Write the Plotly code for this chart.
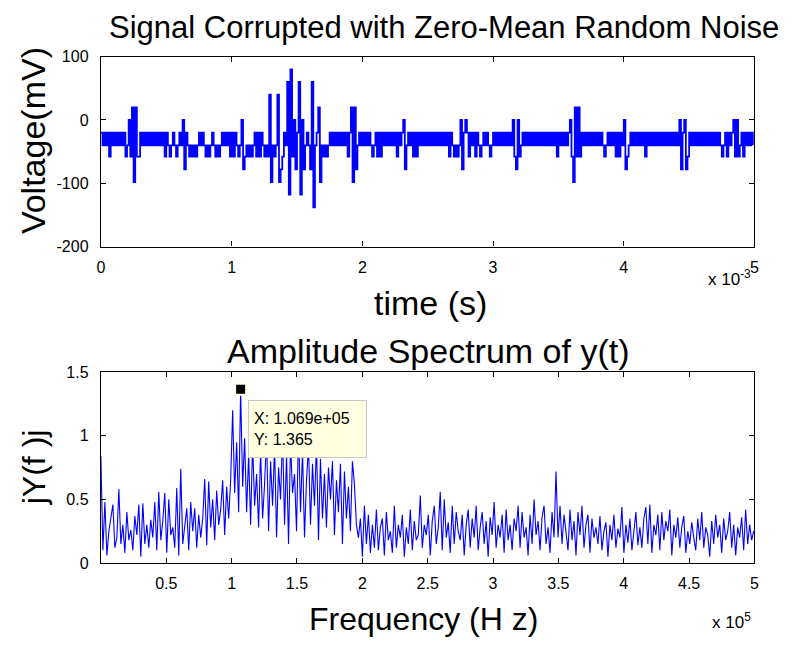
import numpy as np
import plotly.graph_objects as go

# ---------------- data ----------------
dt = 1.25e-5  # sample spacing of the time signal (s)
voltage = [
    -20, -40, -20, -40, -20, -58, -20, -40, -20, -40, -20, -40, -20, -40, -20, -58, -40, 0, -58, 20,
    -98, 20, -58, -58, -20, -40, -20, -40, -20, -40, -20, -40, -20, -40, -20, -40, -20, -40, -20, -58,
    -20, -40, -58, -40, -20, -40, -58, -40, -20, -40, 0, -78, -20, -40, -58, -40, -58, -40, -58, -40,
    -20, -40, -20, -40, -58, -40, -58, -40, -20, -40, -58, -40, -58, -40, -20, -40, -20, -40, -20, -58,
    -20, -58, -20, -40, -58, -40, 0, -78, -58, -40, -58, -40, -58, -40, -20, -58, -20, -58, -20, -40,
    -58, -40, -58, 40, -98, -40, -58, -40, 40, -98, -78, -58, -20, -40, 60, -118, 80, -58, 0, -78,
    -20, 60, -118, 0, -78, -40, -20, -40, -78, 60, -138, -40, -20, 20, -98, -40, -58, -40, -58, -40,
    -20, -40, -20, -40, -20, -40, -20, -40, -20, -40, -20, -58, -20, 20, -98, 20, -78, -40, -20, -40,
    -20, -40, -20, -40, -20, -40, -58, -40, -20, -58, -20, -58, -20, -40, -20, -40, -20, -40, -20, -40,
    -20, -58, -20, -40, -20, 0, -78, -40, -20, -40, -20, -58, -20, -58, -20, -40, -20, -40, -20, -40,
    -20, -40, -20, -40, -20, -40, -20, -40, -20, -40, -20, -40, -20, -58, -20, -40, -58, -40, -58, -40,
    0, -78, -20, 0, -20, -58, -20, -40, -20, -58, -20, -40, -58, -40, -20, -40, -20, -40, -58, -40,
    -20, -40, -20, -40, -20, -40, -20, -40, -20, -40, -20, -40, 0, -58, -78, 0, -58, -40, -20, -40,
    -20, -40, -20, -40, -20, -40, -20, -40, -20, -40, -20, -40, -20, -40, -20, -40, -20, -40, -20, -58,
    -20, -40, -20, -40, -20, -40, -20, 0, -58, -98, 20, -58, 20, -58, -20, -40, -20, -40, -20, -40,
    -20, -40, -20, -40, -20, -40, -20, -40, -58, -40, -20, -40, -20, -40, -20, -58, -20, -58, -20, -40,
    0, -78, -58, -40, -20, -40, -20, -40, -20, -40, -20, -40, -20, -58, -20, -40, -20, -40, -20, -40,
    -20, -40, -20, -40, -20, -40, -20, -40, -20, -40, -20, -40, -20, -40, 0, -78, -20, 0, -78, -58,
    -20, -40, -20, -40, -20, -40, -20, -40, -20, -40, -20, -40, -20, -40, -20, -40, -20, -40, -20, -40,
    -58, -40, -20, -58, -20, -40, -20, 0, -58, 0, -58, -40, -20, -58, -20, -40, -20, -40, -20, -40,
]

df = 1.069e5 / 70  # frequency bin spacing (Hz)
amplitude = [
    0.84, 0.10, 0.48, 0.06, 0.25, 0.35, 0.46, 0.12, 0.20, 0.58,
    0.15, 0.30, 0.08, 0.40, 0.18, 0.26, 0.10, 0.37, 0.22, 0.46,
    0.05, 0.47, 0.15, 0.30, 0.12, 0.34, 0.20, 0.48, 0.10, 0.56,
    0.18, 0.33, 0.55, 0.08, 0.50, 0.22, 0.28, 0.12, 0.59, 0.06,
    0.74, 0.15, 0.30, 0.43, 0.10, 0.48, 0.25, 0.43, 0.12, 0.38,
    0.20, 0.35, 0.66, 0.14, 0.64, 0.28, 0.50, 0.18, 0.57, 0.30,
    0.42, 0.65, 0.22, 0.60, 0.35, 0.65, 1.20, 0.55, 0.95, 0.40,
    1.365, 0.60, 0.98, 0.40, 0.85, 0.30, 0.95, 0.45, 0.70, 0.28,
    0.88, 0.35, 0.62, 1.00, 0.25, 0.80, 0.45, 0.92, 0.20, 0.75,
    0.50, 1.02, 0.30, 0.85, 0.15, 0.95, 0.55, 0.70, 0.25, 1.05,
    0.40, 0.88, 0.20, 0.65, 0.92, 0.30, 0.78, 0.45, 0.95, 0.18,
    0.82, 0.35, 0.70, 0.28, 0.75, 0.50, 0.80, 0.22, 0.65, 0.40,
    0.78, 0.15, 0.72, 0.35, 0.60, 0.25, 0.80, 0.62, 0.30, 0.20,
    0.35, 0.05, 0.45, 0.15, 0.38, 0.08, 0.30, 0.12, 0.42, 0.10,
    0.28, 0.35, 0.06, 0.40, 0.18, 0.25, 0.08, 0.45, 0.12, 0.30,
    0.20, 0.38, 0.05, 0.28, 0.15, 0.42, 0.10, 0.33, 0.18, 0.22,
    0.53, 0.12, 0.30, 0.22, 0.38, 0.06, 0.33, 0.45, 0.15, 0.28,
    0.56, 0.10, 0.50, 0.20, 0.32, 0.08, 0.45, 0.15, 0.40, 0.25,
    0.18, 0.38, 0.06, 0.30, 0.42, 0.12, 0.35, 0.20, 0.45, 0.10,
    0.28, 0.40, 0.15, 0.33, 0.05, 0.36, 0.22, 0.48, 0.12, 0.30,
    0.20, 0.38, 0.08, 0.42, 0.18, 0.30, 0.10, 0.35, 0.25, 0.45,
    0.12, 0.40, 0.20, 0.28, 0.06, 0.38, 0.15, 0.50, 0.22, 0.33,
    0.10, 0.36, 0.45, 0.15, 0.28, 0.08, 0.40, 0.20, 0.72, 0.20,
    0.45, 0.15, 0.38, 0.25, 0.10, 0.42, 0.18, 0.33, 0.06, 0.40,
    0.22, 0.45, 0.12, 0.30, 0.38, 0.08, 0.35, 0.20, 0.28, 0.15,
    0.37, 0.10, 0.25, 0.32, 0.05, 0.30, 0.18, 0.38, 0.12, 0.27,
    0.20, 0.44, 0.08, 0.30, 0.16, 0.35, 0.10, 0.25, 0.40, 0.14,
    0.28, 0.12, 0.35, 0.44, 0.15, 0.46, 0.08, 0.30, 0.22, 0.38,
    0.10, 0.40, 0.18, 0.33, 0.25, 0.42, 0.06, 0.30, 0.20, 0.36,
    0.12, 0.28, 0.37, 0.08, 0.25, 0.15, 0.32, 0.20, 0.10, 0.35,
    0.18, 0.40, 0.12, 0.28, 0.22, 0.05, 0.33, 0.15, 0.38, 0.20,
    0.30, 0.08, 0.35, 0.18, 0.25, 0.40, 0.12, 0.30, 0.06, 0.28,
    0.20, 0.36, 0.10, 0.42, 0.15, 0.30, 0.18, 0.25,
]

time_tickvals = [0, 1e-3, 2e-3, 3e-3, 4e-3, 5e-3]
time_ticktext = ["0", "1", "2", "3", "4", "5"]
volt_tickvals = [-200, -100, 0, 100]
volt_ticktext = ["-200", "-100", "0", "100"]
freq_tickvals = [0.5e5, 1e5, 1.5e5, 2e5, 2.5e5, 3e5, 3.5e5, 4e5, 4.5e5, 5e5]
freq_ticktext = ["0.5", "1", "1.5", "2", "2.5", "3", "3.5", "4", "4.5", "5"]
amp_tickvals = [0, 0.5, 1, 1.5]
amp_ticktext = ["0", "0.5", "1", "1.5"]

peak_f = 1.069e5
peak_amp = 1.365

# ---------------- figure ----------------
W, H = 801, 647
FONT = "Liberation Sans, Arial, Helvetica, sans-serif"

t = np.arange(len(voltage)) * dt
f = np.arange(len(amplitude)) * df


def px(x):
    return x / W


def py(y):
    return 1 - y / H


fig = go.Figure()
fig.add_trace(go.Scatter(x=t, y=voltage, mode="lines",
                         line=dict(color="#0000FF", width=1.8, shape="hv"),
                         xaxis="x", yaxis="y", showlegend=False))
fig.add_trace(go.Scatter(x=f, y=amplitude, mode="lines",
                         line=dict(color="#0000FF", width=1.1),
                         xaxis="x2", yaxis="y2", showlegend=False))
fig.add_trace(go.Scatter(x=[peak_f], y=[peak_amp], mode="markers",
                         marker=dict(symbol="square", size=11, color="black",
                                     line=dict(color="#FFFFE1", width=2)),
                         xaxis="x2", yaxis="y2", showlegend=False, cliponaxis=False))

axis_common = dict(showline=True, linecolor="black", linewidth=1.3, mirror="allticks",
                   ticks="inside", ticklen=5, tickcolor="black", tickwidth=1,
                   showgrid=False, zeroline=False,
                   tickfont=dict(family=FONT, size=16, color="black"))

xd = [px(98), px(759)]
fig.update_layout(
    width=W, height=H,
    margin=dict(l=0, r=0, t=0, b=0),
    paper_bgcolor="white", plot_bgcolor="white",
    xaxis=dict(domain=xd, range=[0, 5e-3], tickvals=time_tickvals, ticktext=time_ticktext,
               anchor="y", ticklabelstandoff=6, **axis_common),
    yaxis=dict(domain=[py(245), py(50)], range=[-200, 100], tickvals=volt_tickvals,
               ticktext=volt_ticktext, anchor="x", ticklabelstandoff=8, **axis_common),
    xaxis2=dict(domain=xd, range=[0, 5e5], tickvals=freq_tickvals, ticktext=freq_ticktext,
                anchor="y2", ticklabelstandoff=6, **axis_common),
    yaxis2=dict(domain=[py(570), py(374)], range=[0, 1.5], tickvals=amp_tickvals,
                ticktext=amp_ticktext, anchor="x2", ticklabelstandoff=8, **axis_common),
)

texts = [
    ("Signal Corrupted with Zero-Mean Random Noise", 445, 20, 31, 0),
    ("Voltage(mV)", 30, 136, 34, -90),
    ("time (s)", 431, 303, 34, 0),
    ("Amplitude Spectrum of y(t)", 429, 352, 34, 0),
    ("jY(f )j", 30, 472, 32, -90),
    ("Frequency (H z)", 424, 628, 32, 0),
]
for txt, x, y, size, ang in texts:
    fig.add_annotation(text=txt, x=px(x), y=py(y), xref="paper", yref="paper",
                       showarrow=False, xanchor="center", yanchor="middle", textangle=ang,
                       font=dict(family=FONT, size=size, color="black"))

for txt, x, y in [("x 10<sup>-3</sup>", 758, 277), ("x 10<sup>5</sup>", 758, 630)]:
    fig.add_annotation(text=txt, x=px(x), y=py(y), xref="paper", yref="paper",
                       showarrow=False, xanchor="right", yanchor="middle",
                       font=dict(family=FONT, size=17, color="black"))

fig.add_annotation(text="X: 1.069e+05<br>Y: 1.365", x=peak_f, y=peak_amp,
                   xref="x2", yref="y2", showarrow=False, xanchor="left", yanchor="top",
                   xshift=7, yshift=-11, align="left", width=107, height=46,
                   bgcolor="#FFFFE1", bordercolor="#C8C8C8", borderwidth=1, borderpad=5,
                   font=dict(family=FONT, size=16, color="black"))

fig.write_html("out.html", config={"displayModeBar": False},
               post_script="document.body.style.margin='0px';")
